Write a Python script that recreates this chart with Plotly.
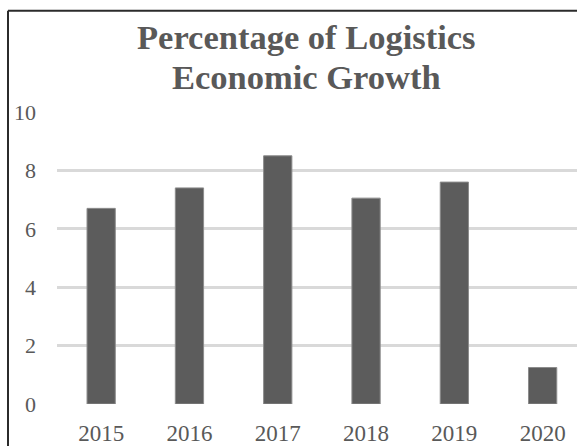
import plotly.graph_objects as go

years = ["2015", "2016", "2017", "2018", "2019", "2020"]
growth = [6.7, 7.4, 8.5, 7.05, 7.6, 1.25]
y_ticks = [0, 2, 4, 6, 8, 10]
title_lines = ["Percentage of Logistics", "Economic Growth"]

W, H = 577, 446
L, R, T, B = 57, 0, 112, 40
plot_w = W - L - R
plot_h = H - T - B

def px_to_paper_x(px):
    return (px - L) / plot_w

def px_to_paper_y(py):
    return (H - B - py) / plot_h

fig = go.Figure()
fig.add_trace(go.Bar(
    x=years,
    y=growth,
    marker=dict(color="#5c5c5c", line=dict(color="#8c8c8c", width=1)),
    width=0.32,
    hoverinfo="x+y",
))

font_family = "Liberation Serif, Times New Roman, serif"

title_y_px = [36, 77]
annotations = []
for line, ypx in zip(title_lines, title_y_px):
    annotations.append(dict(
        text="<b>%s</b>" % line,
        xref="paper", yref="paper",
        x=px_to_paper_x(306), y=px_to_paper_y(ypx),
        xanchor="center", yanchor="middle",
        showarrow=False,
        font=dict(family=font_family, size=34.5, color="#595959"),
    ))

fig.update_layout(
    width=W,
    height=H,
    margin=dict(l=L, r=R, t=T, b=B, pad=0),
    paper_bgcolor="white",
    plot_bgcolor="white",
    showlegend=False,
    font=dict(family=font_family, color="#595959", size=22),
    xaxis=dict(
        type="category",
        range=[-0.5, 5.389],
        showgrid=False,
        showline=False,
        zeroline=False,
        ticks="",
        ticklabelstandoff=13,
        tickfont=dict(size=23, color="#595959"),
        fixedrange=True,
    ),
    yaxis=dict(
        range=[0, 10],
        tickvals=y_ticks,
        showgrid=True,
        gridcolor="#d9d9d9",
        gridwidth=2.5,
        zeroline=False,
        showline=False,
        ticks="",
        ticklabelstandoff=20,
        tickfont=dict(size=22, color="#595959"),
        fixedrange=True,
    ),
    annotations=annotations,
    shapes=[
        dict(type="line", xref="paper", yref="paper",
             x0=px_to_paper_x(8), x1=px_to_paper_x(8),
             y0=px_to_paper_y(10), y1=px_to_paper_y(460),
             line=dict(color="#2b2b2b", width=2)),
        dict(type="line", xref="paper", yref="paper",
             x0=px_to_paper_x(8), x1=px_to_paper_x(590),
             y0=px_to_paper_y(10), y1=px_to_paper_y(10),
             line=dict(color="#2b2b2b", width=2)),
    ],
)

fig.write_html("out.html", config={"displayModeBar": False})
